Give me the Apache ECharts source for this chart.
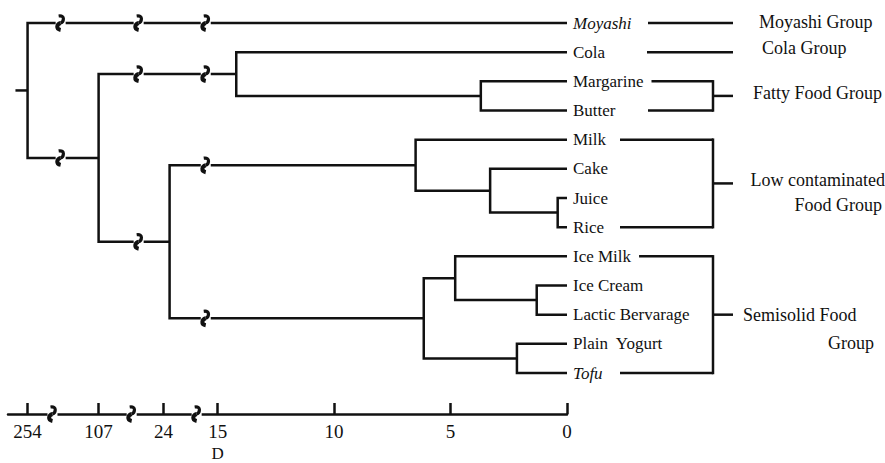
<!DOCTYPE html>
<html><head><meta charset="utf-8">
<script src="https://cdn.jsdelivr.net/npm/echarts@6.0.0/dist/echarts.min.js"></script>
<style>html,body{margin:0;padding:0;background:#fff}#c{width:885px;height:463px}</style>
</head><body><div id="c"></div>
<script>
// ---------- data ----------
const leaves = ['Moyashi','Cola','Margarine','Butter','Milk','Cake','Juice','Rice','Ice Milk','Ice Cream','Lactic Bervarage','Plain  Yogurt','Tofu'];
const italicLeaves = ['Moyashi','Tofu'];
// linkage rows: [child A, child B, distance D]; ids >= 13 are earlier merges
const merges = [
  [6, 7, 0.4],    // 13 Juice+Rice
  [9, 10, 1.3],   // 14 Ice Cream+Lactic
  [11, 12, 2.15], // 15 Plain Yogurt+Tofu
  [5, 13, 3.3],   // 16 Cake+(Juice,Rice)
  [2, 3, 3.7],    // 17 Margarine+Butter
  [8, 14, 4.8],   // 18 Ice Milk+(...)
  [18, 15, 6.15], // 19 semisolid
  [4, 16, 6.5],   // 20 Milk+(...)
  [1, 17, 14.2],  // 21 Cola+fatty
  [20, 19, 23],   // 22 low contaminated + semisolid
  [21, 22, 107],  // 23
  [0, 23, 254]    // 24 root
];
const tickLabels = [0, 5, 10, 15, 24, 107, 254];
const groupLines = [['Moyashi Group'], ['Cola Group'], ['Fatty Food Group'], ['Low contaminated', 'Food Group'], ['Semisolid Food', 'Group']];
const groupRanges = [[0, 0], [1, 1], [2, 3], [4, 7], [8, 12]];

// ---------- broken-axis scale (D -> axis units) ----------
const anchorD = [0, 15, 24, 107, 254];
const anchorU = [0, 15, 17.32, 20.11, 23.16];
function toU(d) {
  for (let i = 1; i < anchorD.length; i++) {
    if (d <= anchorD[i] || i === anchorD.length - 1) {
      const t = (d - anchorD[i-1]) / (anchorD[i] - anchorD[i-1]);
      return anchorU[i-1] + t * (anchorU[i] - anchorU[i-1]);
    }
  }
}
function fromU(u) {
  for (let i = 1; i < anchorU.length; i++) {
    if (u <= anchorU[i] + 1e-6 || i === anchorU.length - 1) {
      const t = (u - anchorU[i-1]) / (anchorU[i] - anchorU[i-1]);
      return anchorD[i-1] + t * (anchorD[i] - anchorD[i-1]);
    }
  }
}

// ---------- style constants ----------
const FONT = '"Liberation Serif","Times New Roman",serif';
const INK = '#111';
const LW = 2.5;
const AXIS_OFFSET = 41;
const LINE_BREAK_U = [21.74, 18.39, 15.51];
const AXIS_BREAK_U = [22.09, 18.69, 15.9];
const ROOT_STUB_U = 0.52;
const LABEL_MARGIN = 6;
const BRACKET_MIN_START = [81, 80, 81, 53, 53];
const BRACKET_X = 146, STUB_END = 166;
const GROUP_LABEL_POS = [
  [[192, 'left', -1]],
  [[195, 'left', -4]],
  [[186, 'left', -3]],
  [[318, 'right', -3], [315, 'right', 22]],
  [[176, 'left', 0], [261, 'left', 28]]
];

// ---------- build tree geometry ----------
const N = leaves.length;
const nodeU = [], nodeY = [];
for (let i = 0; i < N; i++) { nodeU[i] = 0; nodeY[i] = i; }
const treeSegs = [];
const lineGlyphs = [];
merges.forEach(([a, b, d], k) => {
  const id = N + k, u = toU(d);
  nodeU[id] = u; nodeY[id] = (nodeY[a] + nodeY[b]) / 2;
  treeSegs.push([nodeU[a], nodeY[a], u, nodeY[a], u, nodeY[b], nodeU[b], nodeY[b]]);
  [a, b].forEach(c => {
    LINE_BREAK_U.forEach(bu => { if (bu > nodeU[c] && bu < u) lineGlyphs.push([bu, nodeY[c]]); });
  });
});
const rootId = N + merges.length - 1;
const ru = nodeU[rootId], ry = nodeY[rootId];
treeSegs.push([ru, ry, ru + ROOT_STUB_U, ry, ru + ROOT_STUB_U, ry, ru + ROOT_STUB_U, ry]);
const tickU = tickLabels.map(toU);

// text measuring
const mctx = document.createElement('canvas').getContext('2d');
function textW(s, italic) { mctx.font = (italic ? 'italic ' : '') + '17px ' + FONT; return mctx.measureText(s).width; }

function glyph(x, y) {
  return {
    type: 'group', children: [
      { type: 'rect', shape: { x: x - 5, y: y - 3, width: 10, height: 6 }, style: { fill: '#fff' } },
      { type: 'bezierCurve', shape: { x1: x - 2, y1: y - 7, cpx1: x + 5, cpy1: y - 8, cpx2: x + 3, cpy2: y - 1, x2: x, y2: y },
        style: { stroke: INK, lineWidth: 3.2, fill: null } },
      { type: 'bezierCurve', shape: { x1: x, y1: y, cpx1: x - 4, cpy1: y + 1, cpx2: x - 5, cpy2: y + 6, x2: x, y2: y + 7 },
        style: { stroke: INK, lineWidth: 4, fill: null } }
    ]
  };
}

const chart = echarts.init(document.getElementById('c'), null, { renderer: 'svg' });
chart.setOption({
  animation: false,
  backgroundColor: '#fff',
  grid: { left: 8, right: 318, top: 23, bottom: 90 },
  xAxis: {
    type: 'value', min: 0, max: 24, inverse: true, offset: AXIS_OFFSET, position: 'bottom',
    axisLine: { show: true, onZero: false, lineStyle: { color: INK, width: LW } },
    axisTick: { show: true, inside: true, length: 11, customValues: tickU, lineStyle: { color: INK, width: LW } },
    axisLabel: { customValues: tickU, formatter: v => String(Math.round(fromU(v))), color: INK, fontFamily: FONT, fontSize: 19, margin: 8 },
    splitLine: { show: false }
  },
  yAxis: [
    {
      type: 'category', data: leaves, inverse: true, boundaryGap: false, position: 'right',
      axisLine: { show: false, onZero: false }, axisTick: { show: false }, splitLine: { show: false },
      axisLabel: {
        margin: LABEL_MARGIN, color: INK, fontFamily: FONT, fontSize: 17, interval: 0,
        formatter: v => italicLeaves.includes(v) ? '{it|' + v + '}' : '{n|' + v + '}',
        rich: {
          it: { fontStyle: 'italic', fontFamily: FONT, fontSize: 17, color: INK },
          n: { fontFamily: FONT, fontSize: 17, color: INK }
        }
      }
    },
    { type: 'value', min: 0, max: N - 1, inverse: true, show: false, axisLine: { onZero: false } }
  ],
  series: [
    {
      type: 'custom', name: 'tree', yAxisIndex: 1, data: treeSegs,
      encode: { x: [0, 2, 4, 6], y: [1, 3, 5, 7] },
      renderItem: (params, api) => {
        const pts = [];
        for (let i = 0; i < 4; i++) pts.push(api.coord([api.value(2 * i), api.value(2 * i + 1)]));
        return { type: 'polyline', shape: { points: pts }, style: { stroke: INK, lineWidth: LW, fill: null, lineJoin: 'miter' } };
      }
    },
    {
      type: 'custom', name: 'breaks', yAxisIndex: 1, data: lineGlyphs, z: 5,
      encode: { x: 0, y: 1 },
      renderItem: (params, api) => {
        const p = api.coord([api.value(0), api.value(1)]);
        return glyph(p[0], p[1]);
      }
    },
    {
      type: 'custom', name: 'annot', yAxisIndex: 1, data: [[0, 0]], z: 5,
      renderItem: (params, api) => {
        const children = [];
        const x0 = api.coord([0, 0])[0];
        const axisY = api.coord([0, N - 1])[1] + AXIS_OFFSET;
        AXIS_BREAK_U.forEach(bu => children.push(glyph(api.coord([bu, 0])[0], axisY)));
        children.push({ type: 'text', style: { text: 'D', x: api.coord([15, 0])[0], y: 462, align: 'center', verticalAlign: 'bottom', fontFamily: FONT, fontSize: 17, fill: INK } });
        groupRanges.forEach(([s, e], g) => {
          const ys = api.coord([0, s])[1], ye = api.coord([0, e])[1];
          const ends = s === e ? [s] : [s, e];
          ends.forEach(i => {
            const y = api.coord([0, i])[1];
            const sx = Math.max(x0 + LABEL_MARGIN + textW(leaves[i], italicLeaves.includes(leaves[i])) + 8, x0 + BRACKET_MIN_START[g]);
            const ex = s === e ? x0 + STUB_END : x0 + BRACKET_X;
            children.push({ type: 'line', shape: { x1: sx, y1: y, x2: ex, y2: y }, style: { stroke: INK, lineWidth: LW } });
          });
          let midY = ys;
          if (s !== e) {
            midY = (ys + ye) / 2;
            children.push({ type: 'line', shape: { x1: x0 + BRACKET_X, y1: ys - LW / 2, x2: x0 + BRACKET_X, y2: ye + LW / 2 }, style: { stroke: INK, lineWidth: LW } });
            children.push({ type: 'line', shape: { x1: x0 + BRACKET_X, y1: midY, x2: x0 + STUB_END, y2: midY }, style: { stroke: INK, lineWidth: LW } });
          }
          groupLines[g].forEach((t, j) => {
            const [dx, al, dy] = GROUP_LABEL_POS[g][j];
            children.push({ type: 'text', style: { text: t, x: x0 + dx, y: midY + dy, align: al, verticalAlign: 'middle', fontFamily: FONT, fontSize: 18, fill: INK } });
          });
        });
        return { type: 'group', children };
      }
    }
  ]
});
</script>
</body></html>
